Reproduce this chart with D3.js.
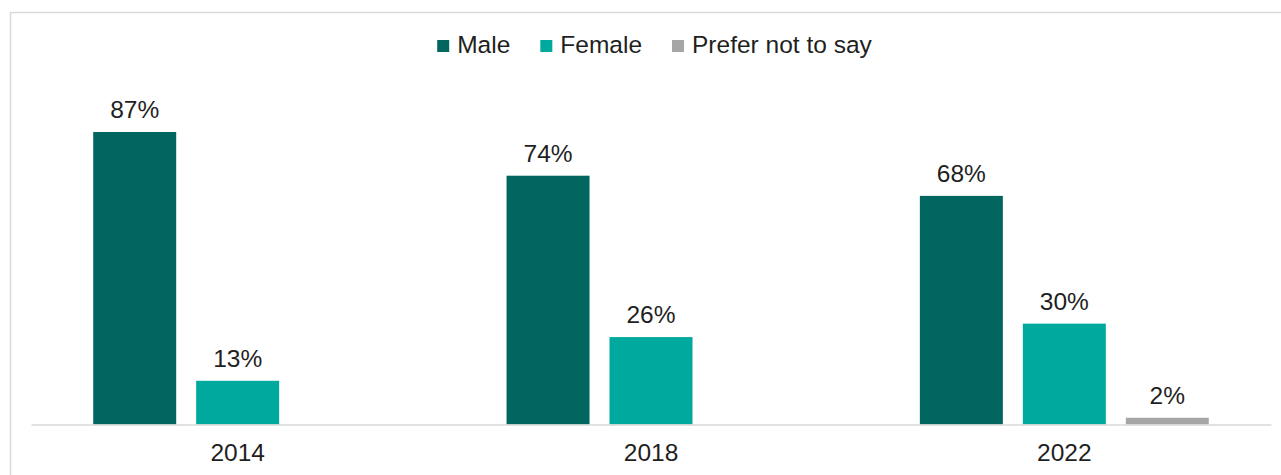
<!DOCTYPE html>
<html>
<head>
<meta charset="utf-8">
<script src="https://cdn.jsdelivr.net/npm/d3@7"></script>
<style>
  html, body { margin: 0; padding: 0; background: #fff; }
  svg { display: block; font-family: "Liberation Sans", Arial, sans-serif; }
</style>
</head>
<body>
<svg id="chart" width="1281" height="475"></svg>
<script>
// Survey responses by gender, per survey year (percent)
const years = ["2014", "2018", "2022"];
const seriesNames = ["Male", "Female", "Prefer not to say"];
const maleValues = [87, 74, 68];
const femaleValues = [13, 26, 30];
const preferNotValues = [null, null, 2];
const seriesColors = ["#00665f", "#00a99e", "#a6a6a6"];

const seriesValues = [maleValues, femaleValues, preferNotValues];

const svg = d3.select("#chart");
const W = 1281, H = 475;
const fontSize = 24.5;
const textColor = "#1f1f1f";
const gridColor = "#d9d9d9";

// Outer frame (top and left edges visible)
svg.append("line").attr("x1", 10).attr("x2", W).attr("y1", 12.5).attr("y2", 12.5)
  .attr("stroke", gridColor).attr("stroke-width", 1.5);
svg.append("line").attr("x1", 10.5).attr("x2", 10.5).attr("y1", 12).attr("y2", H)
  .attr("stroke", gridColor).attr("stroke-width", 1.5);

// Scales
const plotLeft = 31, plotRight = 1271, baseY = 424.5;
const x = d3.scaleBand().domain(years).range([plotLeft, plotRight]).padding(0);
const groupPad = 62.2;
const xInner = d3.scaleBand().domain(seriesNames)
  .range([groupPad, x.bandwidth() - groupPad])
  .paddingInner(0.194).paddingOuter(0);
const y = d3.scaleLinear().domain([0, 100]).range([baseY, baseY - 336.2]);

// Bars
const rows = [];
years.forEach((yr, i) => {
  seriesNames.forEach((s, j) => {
    const v = seriesValues[j][i];
    if (v != null) rows.push({ year: yr, series: s, value: v, color: seriesColors[j] });
  });
});

const g = svg.append("g");
g.selectAll("rect.bar").data(rows).join("rect")
  .attr("class", "bar")
  .attr("x", d => x(d.year) + xInner(d.series))
  .attr("y", d => y(d.value))
  .attr("width", xInner.bandwidth())
  .attr("height", d => y(0) - y(d.value))
  .attr("fill", d => d.color);

// Value labels
g.selectAll("text.val").data(rows).join("text")
  .attr("class", "val")
  .attr("x", d => x(d.year) + xInner(d.series) + xInner.bandwidth() / 2)
  .attr("y", d => y(d.value) - 14)
  .attr("text-anchor", "middle")
  .attr("font-size", fontSize)
  .attr("fill", textColor)
  .text(d => d.value + "%");

// Category axis
const axis = svg.append("g")
  .attr("transform", `translate(0,${baseY})`)
  .call(d3.axisBottom(x).tickSizeInner(0).tickSizeOuter(0).tickPadding(19));
axis.select(".domain").attr("stroke", gridColor).attr("stroke-width", 1.5);
axis.selectAll("text")
  .attr("font-size", fontSize)
  .attr("font-family", "'Liberation Sans', Arial, sans-serif")
  .attr("fill", textColor);

// Legend
const legend = svg.append("g");
const items = legend.selectAll("g").data(seriesNames).join("g");
items.append("rect")
  .attr("width", 12).attr("height", 12)
  .attr("y", 40)
  .attr("fill", (d, i) => seriesColors[i]);
items.append("text")
  .attr("x", 20).attr("y", 53)
  .attr("font-size", fontSize)
  .attr("fill", textColor)
  .text(d => d);
let cursor = 0;
const offsets = [];
items.each(function () {
  offsets.push(cursor);
  const tw = d3.select(this).select("text").node().getComputedTextLength();
  cursor += 20 + tw + 30;
});
const legendWidth = cursor - 30;
const legendStart = 654.5 - legendWidth / 2;
items.attr("transform", (d, i) => `translate(${legendStart + offsets[i]},0)`);
</script>
</body>
</html>
